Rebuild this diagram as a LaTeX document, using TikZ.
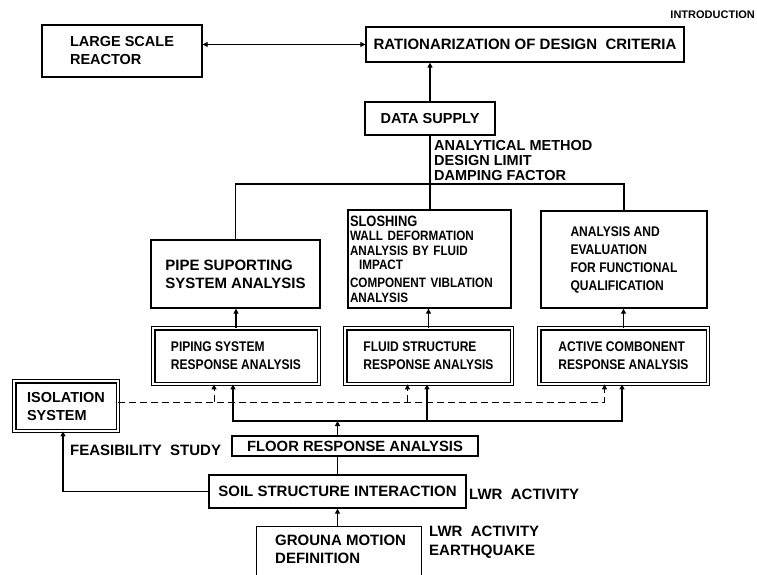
\documentclass[tikz,border=0pt]{standalone}
\usepackage{fontspec}
\setmainfont{Liberation Sans}
\newfontfamily\condf{Liberation Sans}[FakeStretch=0.86]
\usetikzlibrary{arrows.meta}
\newcommand\fBig{\fontsize{15}{18}\selectfont\bfseries}
\newcommand\fMid{\fontsize{14.5}{18}\selectfont\bfseries}
\newcommand\fCond{\condf\fontsize{14}{18}\selectfont\bfseries}
\newcommand\fSlo{\condf\fontsize{13.6}{14.6}\selectfont\bfseries}
\tikzset{
  box/.style={draw, line width=1.3pt, inner sep=0pt, align=center},
  dbox/.style={draw, double, line width=1.2pt, double distance=2.2pt, inner sep=0pt, align=center},
  conn/.style={line width=1.3pt},
  arr/.style={conn, -{Triangle[length=5pt,width=5pt]}},
  dsh/.style={line width=1pt, dash pattern=on 7pt off 4pt},
  dsharr/.style={dsh, -{Triangle[length=5pt,width=5pt]}},
  lbl/.style={inner sep=0pt, align=left, anchor=west},
}
\begin{document}
\begin{tikzpicture}[x=1pt,y=-1pt]
\useasboundingbox[fill=white] (0,0) rectangle (757,574);
% boxes
\node[box, minimum width=160, minimum height=52, font=\fMid, align=left] (lsr) at (122,51) {LARGE SCALE\\REACTOR};
\node[box, minimum width=318, minimum height=35, font=\fBig] (rat) at (525,44.5) {RATIONARIZATION OF DESIGN\ \ CRITERIA};
\node[box, minimum width=130, minimum height=33, font=\fMid] (ds) at (430,118.5) {DATA SUPPLY};
\node[lbl, font=\fontsize{14.5}{15}\selectfont\bfseries] (dslbl) at (434,161) {ANALYTICAL METHOD\\DESIGN LIMIT\\DAMPING FACTOR};
\node[box, minimum width=169, minimum height=68, font=\fBig, align=left] (pipesup) at (235.5,274) {PIPE SUPORTING\\SYSTEM ANALYSIS};
\node[box, minimum width=163, minimum height=98, text width=159pt, align=left, font=\fSlo] (slosh) at (429.5,259)
  {{\fontsize{15}{14.6}\selectfont SLOSHING}\\WALL DEFORMATION\\ANALYSIS BY FLUID\\\ \ IMPACT\\[3pt]COMPONENT VIBLATION\\ANALYSIS};
\node[box, minimum width=166, minimum height=97, font=\fCond, align=left] (anal) at (624,259.5) {ANALYSIS AND\\EVALUATION\\FOR FUNCTIONAL\\QUALIFICATION};
\node[dbox, minimum width=165.6, minimum height=55.6, font=\fCond, align=left] (piping) at (236,356) {PIPING SYSTEM\\RESPONSE ANALYSIS};
\node[dbox, minimum width=166.6, minimum height=55.6, font=\fCond, align=left] (fluid) at (428.5,356) {FLUID STRUCTURE\\RESPONSE ANALYSIS};
\node[dbox, minimum width=168.6, minimum height=55.6, font=\fCond, align=left] (active) at (623.5,356) {ACTIVE COMBONENT\\RESPONSE ANALYSIS};
\node[dbox, minimum width=103.6, minimum height=49.6, font=\fMid, align=left] (iso) at (66,406) {ISOLATION\\SYSTEM};
\node[box, minimum width=246, minimum height=20, font=\fontsize{14.8}{18}\selectfont\bfseries] (floor) at (355,446) {FLOOR RESPONSE ANALYSIS};
\node[box, minimum width=257, minimum height=33, font=\fBig] (soil) at (337.5,491.5) {SOIL STRUCTURE INTERACTION};
\node[box, minimum width=165, minimum height=74, anchor=north west] (groundbox) at (256,526) {};
\node[lbl, font=\fBig] (ground) at (275,549) {GROUNA MOTION\\DEFINITION};
\node[lbl, font=\fontsize{15}{19}\selectfont\bfseries] (lwrB) at (429,542) {LWR\ \ ACTIVITY\\EARTHQUAKE};
\node[lbl, font=\fBig] (lwrA) at (469,494) {LWR\ \ ACTIVITY};
\node[lbl, font=\fBig] (feas) at (70,450) {FEASIBILITY\ \ STUDY};
\node[inner sep=0pt, anchor=east, font=\fontsize{11}{13}\selectfont\bfseries] (intro) at (755,15) {INTRODUCTION};
% coordinates
\coordinate (br) at (430,184);
\coordinate (dY) at (0,402);
\coordinate (sY) at (0,421);
\coordinate (pL) at ([xshift=-3pt]piping.south);
\coordinate (aL) at ([xshift=-1.5pt]active.south);
\coordinate (fL) at ([xshift=-1.5pt]fluid.south);
% connectors top
\draw[conn, {Triangle[length=5pt,width=5pt]}-{Triangle[length=5pt,width=5pt]}] (rat.west -| lsr.east) -- (rat.west);
\draw[arr] (ds.north) -- (ds.north |- rat.south);
\draw[conn] (ds.south) -- (ds.south |- slosh.north);
\draw[conn] (pipesup.north) |- (br) -| (anal.north);
\draw[arr] (piping.north) -- (piping.north |- pipesup.south);
\draw[arr] (fluid.north) -- (fluid.north |- slosh.south);
\draw[arr] (active.north) -- (active.north |- anal.south);
% dashed isolation links
\draw[dsharr] (iso.east |- dY) -| ([xshift=-19pt]active.south);
\draw[dsharr] ([xshift=-22pt]piping.south |- dY) -- ([xshift=-22pt]piping.south);
\draw[dsharr] ([xshift=-21pt]fluid.south |- dY) -- ([xshift=-21pt]fluid.south);
% floor response distribution
\draw[conn, {Triangle[length=5pt,width=5pt]}-{Triangle[length=5pt,width=5pt]}] (pL) -- (pL |- sY) -- (aL |- sY) -- (aL);
\draw[arr] (fL |- sY) -- (fL);
\draw[arr] (floor.north -| soil) -- (soil |- sY);
\draw[conn] (soil.north) -- (soil.north |- floor.south);
\draw[arr] (soil.south |- groundbox.north) -- (soil.south);
\draw[arr] (soil.west) -| ([xshift=-3pt]iso.south);
\end{tikzpicture}
\end{document}
